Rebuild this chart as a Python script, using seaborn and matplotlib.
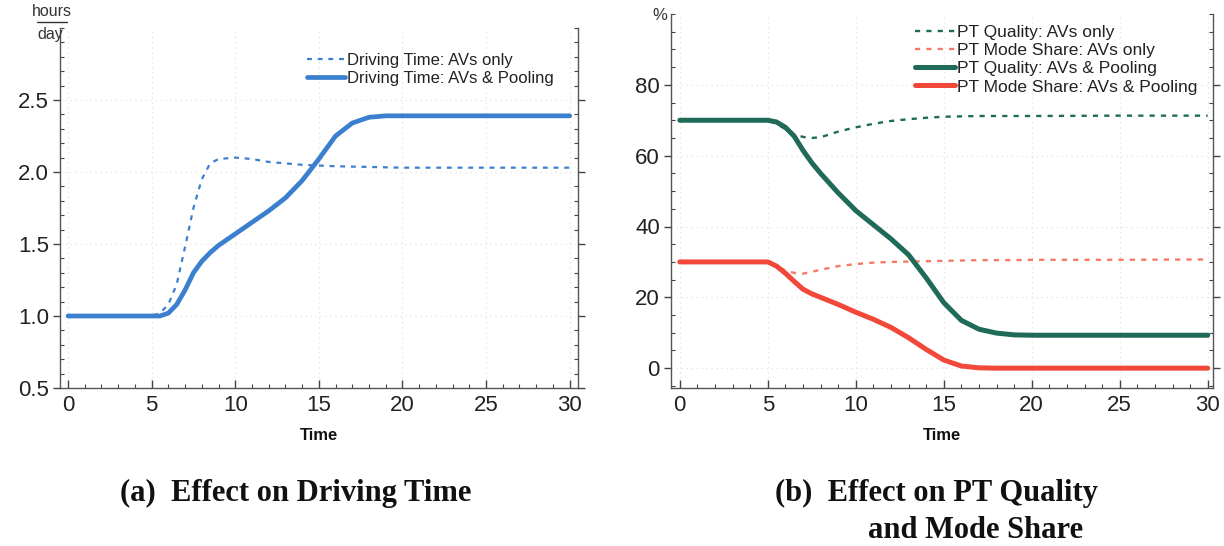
import numpy as np
import pandas as pd
import matplotlib
matplotlib.use("Agg")
import matplotlib.pyplot as plt
from matplotlib.ticker import MultipleLocator
from matplotlib.lines import Line2D
import seaborn as sns

# ---------------- data ----------------
# (a) Driving time (hours/day)
t_drive_pool = [0, 5, 5.5, 6, 6.5, 7, 7.5, 8, 8.5, 9, 10, 11, 12, 13, 14, 15, 16, 17, 18, 19, 20, 25, 30]
drive_pool   = [1.0, 1.0, 1.0, 1.02, 1.08, 1.18, 1.30, 1.38, 1.44, 1.49, 1.57, 1.65, 1.73, 1.82, 1.94, 2.09, 2.25, 2.34, 2.38, 2.39, 2.39, 2.39, 2.39]
t_drive_av   = [0, 5, 5.5, 6, 6.5, 7, 7.5, 8, 8.5, 9, 10, 11, 12, 13, 14, 15, 16, 18, 20, 25, 30]
drive_av     = [1.0, 1.0, 1.02, 1.08, 1.22, 1.48, 1.75, 1.95, 2.06, 2.09, 2.10, 2.09, 2.07, 2.06, 2.05, 2.045, 2.04, 2.035, 2.03, 2.03, 2.03]

# (b) PT quality and mode share (%)
t_pt = [0, 5, 5.5, 6, 6.5, 7, 7.5, 8, 9, 10, 11, 12, 13, 14, 15, 16, 17, 18, 19, 20, 25, 30]
q_pool  = [70, 70, 69.5, 68.0, 65.5, 61.5, 58.0, 55.0, 49.5, 44.5, 40.5, 36.5, 32.0, 25.5, 18.5, 13.5, 11.0, 9.9, 9.4, 9.3, 9.3, 9.3]
q_av    = [70, 70, 69.0, 67.5, 66.0, 65.3, 65.0, 65.2, 66.8, 68.0, 69.0, 69.8, 70.3, 70.7, 71.0, 71.1, 71.2, 71.2, 71.2, 71.2, 71.3, 71.3]
ms_pool = [30, 30, 28.8, 26.8, 24.5, 22.3, 21.0, 20.0, 18.0, 15.8, 13.8, 11.5, 8.6, 5.3, 2.3, 0.6, 0.1, 0.0, 0.0, 0.0, 0.0, 0.0]
ms_av   = [30, 30, 28.8, 27.6, 26.9, 26.7, 27.2, 27.8, 28.8, 29.4, 29.8, 30.0, 30.1, 30.2, 30.3, 30.4, 30.5, 30.5, 30.5, 30.6, 30.6, 30.7]

labels_a = ["Driving Time: AVs only", "Driving Time: AVs & Pooling"]
labels_b = ["PT Quality: AVs only", "PT Mode Share: AVs only",
            "PT Quality: AVs & Pooling", "PT Mode Share: AVs & Pooling"]
x_ticks = [0, 5, 10, 15, 20, 25, 30]

# ---------------- style ----------------
sns.set_theme(style="ticks")
plt.rcParams["font.family"] = ["Liberation Sans", "DejaVu Sans"]
plt.rcParams["axes.edgecolor"] = "#555555"
plt.rcParams["xtick.color"] = "#444444"
plt.rcParams["ytick.color"] = "#444444"
plt.rcParams["xtick.labelcolor"] = "#222222"
plt.rcParams["ytick.labelcolor"] = "#222222"

BLUE = "#3b7fcf"
TEAL = "#1f6a58"
RED = "#f2483a"
SALMON = "#f57a66"

fig = plt.figure(figsize=(12.24, 5.46), dpi=100)
axA = fig.add_axes([60/1224, 1-388/546, 518/1224, 360/546])
axB = fig.add_axes([671/1224, 1-388/546, 542/1224, 374/546])

def df(t, v):
    return pd.DataFrame({"Time": t, "v": v})

# (a)
sns.lineplot(data=df(t_drive_av, drive_av), x="Time", y="v", ax=axA, color=BLUE,
             lw=1.6, linestyle=(0, (2.2, 2.6)), label=labels_a[0])
sns.lineplot(data=df(t_drive_pool, drive_pool), x="Time", y="v", ax=axA, color=BLUE,
             lw=3.4, label=labels_a[1])

# (b)
sns.lineplot(data=df(t_pt, q_av), x="Time", y="v", ax=axB, color=TEAL,
             lw=1.7, linestyle=(0, (2.2, 2.6)), label=labels_b[0])
sns.lineplot(data=df(t_pt, ms_av), x="Time", y="v", ax=axB, color=SALMON,
             lw=1.7, linestyle=(0, (2.2, 2.6)), label=labels_b[1])
sns.lineplot(data=df(t_pt, q_pool), x="Time", y="v", ax=axB, color=TEAL,
             lw=3.6, label=labels_b[2])
sns.lineplot(data=df(t_pt, ms_pool), x="Time", y="v", ax=axB, color=RED,
             lw=3.6, label=labels_b[3])

for ax in (axA, axB):
    ax.spines["top"].set_visible(False)
    ax.spines["right"].set_visible(True)
    ax.set_xticks(x_ticks)
    ax.xaxis.set_minor_locator(MultipleLocator(1))
    ax.set_xlabel("Time", fontsize=12, fontweight="bold", labelpad=9, color="#111111")
    ax.set_ylabel("")
    ax.tick_params(axis="x", which="major", direction="in", length=6, width=1.0,
                   labelsize=16, pad=5, top=False)
    ax.tick_params(axis="x", which="minor", direction="in", length=3, width=0.8, top=False)
    ax.tick_params(axis="y", which="major", direction="out", length=5, width=1.0,
                   labelsize=16, pad=3, right=True)
    ax.tick_params(axis="y", which="minor", direction="in", length=3, width=0.8, right=True)
    ax.grid(True, which="major", color="#e2e2e2", linestyle=(0, (1, 3)), lw=0.9)
    for sp in ax.spines.values():
        sp.set_linewidth(1.0)

axA.set_xlim(-0.48, 30.5)
axA.set_ylim(0.5, 3.0)
axA.set_yticks([0.5, 1.0, 1.5, 2.0, 2.5])
axA.yaxis.set_minor_locator(MultipleLocator(0.1))

axB.set_xlim(-0.5, 30.3)
axB.set_ylim(-5.6, 100)
axB.set_yticks([0, 20, 40, 60, 80])
axB.yaxis.set_minor_locator(MultipleLocator(5))

legA = axA.legend(loc="upper left", bbox_to_anchor=(0.46, 0.955), frameon=False,
                  fontsize=12, handlelength=2.3, handletextpad=0.1,
                  labelspacing=0.18, borderpad=0)
legB = axB.legend(loc="upper left", bbox_to_anchor=(0.435, 0.995), frameon=False,
                  fontsize=12.5, handlelength=2.3, handletextpad=0.1,
                  labelspacing=0.18, borderpad=0)
for leg in (legA, legB):
    for txt in leg.get_texts():
        txt.set_color("#222222")

# unit labels
fig.text(52/1224, 1-12/546, "hours", ha="center", va="center", fontsize=11.5, color="#333333")
fig.add_artist(Line2D([37/1224, 67/1224], [1-22/546, 1-22/546], color="#333333", lw=1.0))
fig.text(50/1224, 1-34/546, "day", ha="center", va="center", fontsize=11.5, color="#333333")
fig.text(660/1224, 1-15/546, "%", ha="center", va="center", fontsize=12, color="#333333")

# captions
cap = dict(fontsize=22, fontweight="bold", family=["Liberation Serif", "DejaVu Serif"], color="#111111")
fig.text(120/1224, 1-493/546, "(a)  Effect on Driving Time", ha="left", va="center", **cap)
fig.text(775/1224, 1-493/546, "(b)  Effect on PT Quality", ha="left", va="center", **cap)
fig.text(868/1224, 1-530/546, "and Mode Share", ha="left", va="center", **cap)

fig.savefig("out.png", dpi=100)
